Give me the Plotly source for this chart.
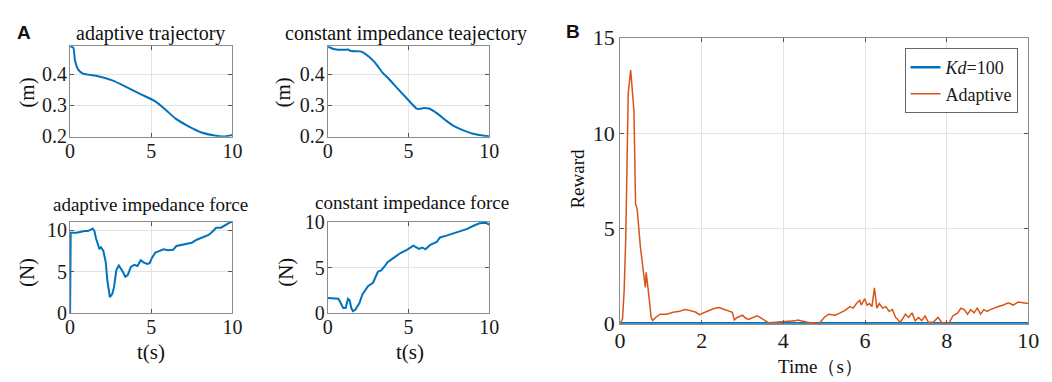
import plotly.graph_objects as go

# ---------------- data ----------------
traj_ad_t = [0, 0.2, 0.3, 0.5, 0.8, 1.6, 2.6, 3.6, 4.4, 5.25, 5.9, 6.5, 7.3, 8.1, 8.9, 9.5, 10]
traj_ad_y = [0.491, 0.486, 0.445, 0.415, 0.402, 0.395, 0.38, 0.355, 0.334, 0.312, 0.284, 0.256, 0.231, 0.211, 0.201, 0.198, 0.203]

traj_ci_t = [0, 0.35, 1.05, 1.25, 1.45, 2.0, 2.3, 2.9, 3.4, 3.7, 4.1, 4.5, 5.0, 5.5, 5.7, 5.95, 6.25, 6.75, 7.35, 7.85, 8.4, 9.0, 9.6, 10]
traj_ci_y = [0.491, 0.483, 0.48, 0.481, 0.476, 0.475, 0.468, 0.44, 0.405, 0.39, 0.367, 0.344, 0.316, 0.289, 0.288, 0.291, 0.289, 0.274, 0.249, 0.231, 0.218, 0.207, 0.201, 0.198]

force_ad_t = [0, 0.04, 0.4, 0.7, 0.9, 1.1, 1.4, 1.5, 1.6, 1.8, 1.9, 2.05, 2.2, 2.3, 2.45, 2.6, 2.7, 2.85, 3.0, 3.25, 3.4, 3.55, 3.75, 3.95, 4.15, 4.35, 4.55, 4.75, 4.9, 5.05, 5.25, 5.45, 5.75, 6.05, 6.35, 6.55, 6.85, 7.15, 7.5, 7.8, 8.2, 8.5, 8.7, 9.0, 9.3, 9.6, 9.9, 10]
force_ad_y = [0, 9.7, 9.7, 9.85, 9.9, 9.9, 10.2, 9.9, 9.0, 7.8, 7.95, 7.5, 6.1, 3.9, 1.97, 2.35, 3.1, 5.2, 5.75, 5.0, 4.4, 4.6, 5.6, 5.85, 5.7, 6.4, 6.1, 5.95, 6.05, 6.7, 7.3, 7.45, 7.7, 7.6, 7.65, 8.1, 8.2, 8.3, 8.5, 8.85, 9.2, 9.4, 9.7, 10.3, 10.3, 10.6, 11.0, 10.95]

force_ci_t = [0, 0.65, 0.75, 0.95, 1.1, 1.25, 1.35, 1.45, 1.55, 1.7, 1.95, 2.15, 2.5, 2.8, 3.1, 3.3, 3.5, 3.7, 4.1, 4.5, 4.9, 5.3, 5.65, 5.85, 6.05, 6.35, 6.75, 6.95, 7.35, 7.75, 8.15, 8.6, 9.0, 9.4, 9.8, 10]
force_ci_y = [1.7, 1.6, 1.3, 0.6, 0.6, 1.6, 1.45, 0.6, 0.25, 0.4, 1.1, 2.1, 3.0, 3.35, 4.55, 4.7, 5.1, 5.6, 6.1, 6.6, 6.95, 7.4, 7.05, 7.2, 7.0, 7.5, 7.8, 8.3, 8.5, 8.7, 8.95, 9.2, 9.55, 9.85, 9.9, 9.7]

rew_ad_t = [0, 0.06, 0.1, 0.14, 0.18, 0.2, 0.26, 0.3, 0.34, 0.38, 0.42, 0.5, 0.58, 0.62, 0.64, 0.67, 0.72, 0.76, 0.8, 0.88,
            0.98, 1.14, 1.3, 1.46, 1.58, 1.7, 1.86, 1.94, 2.06, 2.18, 2.3, 2.42, 2.55, 2.66, 2.75, 2.8, 2.87, 3.0, 3.07, 3.15,
            3.27, 3.35, 3.43, 3.55, 3.64, 3.8, 3.96, 4.1, 4.19, 4.28, 4.35, 4.59, 4.87, 5.0, 5.11, 5.27, 5.39, 5.51, 5.63, 5.71,
            5.79, 5.87, 5.91, 5.99, 6.05, 6.11, 6.17, 6.23, 6.29, 6.35, 6.43, 6.51, 6.59, 6.67, 6.75, 6.87, 6.99, 7.07, 7.15, 7.23,
            7.31, 7.39, 7.47, 7.55, 7.67, 7.79, 7.87, 7.95, 8.07, 8.15, 8.27, 8.35, 8.43, 8.51, 8.59, 8.67, 8.75, 8.83, 8.91, 8.99,
            9.07, 9.15, 9.27, 9.39, 9.51, 9.63, 9.75, 9.87, 10.0]
rew_ad_y = [0, 0.25, 1.7, 4.5, 9.5, 12.1, 13.3, 12.4, 11.2, 6.3, 6.0, 4.0, 2.5, 1.9, 2.7, 2.2, 1.2, 0.34, 0.17, 0.34,
            0.5, 0.5, 0.6, 0.65, 0.75, 0.7, 0.6, 0.48, 0.58, 0.7, 0.8, 0.85, 0.75, 0.7, 0.6, 0.2, 0.33, 0.45, 0.3, 0.22,
            0.33, 0.42, 0.33, 0.16, 0.05, 0.08, 0.1, 0.1, 0.15, 0.15, 0.2, 0.08, 0.0, 0.33, 0.5, 0.45, 0.57, 0.7, 0.9, 0.82,
            1.06, 1.23, 0.98, 1.31, 0.98, 1.06, 0.9, 1.88, 0.82, 1.06, 0.82, 0.9, 0.65, 0.74, 0.33, 0.08, 0.5, 0.33, 0.57, 0.16,
            0.33, 0.16, 0.41, 0.08, 0.08, 0.33, 0.08, 0.0, 0.08, 0.41, 0.57, 0.82, 0.74, 0.5, 0.74, 0.57, 0.82, 0.5, 0.74, 0.65,
            0.74, 0.82, 0.9, 0.98, 1.1, 0.98, 1.14, 1.1, 1.06]

rew_kd_t = [0, 2, 4, 6, 8, 10]
rew_kd_y = [0.03, 0.03, 0.03, 0.03, 0.03, 0.03]

# ---------------- styling ----------------
W, H = 1052, 382
SERIF = "Liberation Serif, Times New Roman, serif"
BLUE = "#0072BD"
ORANGE = "#D95319"
AX = "#8c8c8c"
GRID = "#e3e3e3"
TXT = "#1a1a1a"


def px_x(p):
    return p / W


def px_y(p):
    return 1 - p / H


def axis_style(size=20, **kw):
    d = dict(showline=True, linecolor=AX, linewidth=1, mirror="ticks",
             ticks="inside", ticklen=4, tickcolor="#555", showgrid=True,
             gridcolor=GRID, gridwidth=1, zeroline=False,
             tickfont=dict(family=SERIF, size=size, color=TXT))
    d.update(kw)
    return d


fig = go.Figure()

fig.add_trace(go.Scatter(x=traj_ad_t, y=traj_ad_y, mode="lines", line=dict(color=BLUE, width=2, shape="spline", smoothing=0.6),
                         xaxis="x", yaxis="y", showlegend=False))
fig.add_trace(go.Scatter(x=traj_ci_t, y=traj_ci_y, mode="lines", line=dict(color=BLUE, width=2, shape="spline", smoothing=0.5),
                         xaxis="x2", yaxis="y2", showlegend=False))
fig.add_trace(go.Scatter(x=force_ad_t, y=force_ad_y, mode="lines", line=dict(color=BLUE, width=2),
                         xaxis="x3", yaxis="y3", showlegend=False))
fig.add_trace(go.Scatter(x=force_ci_t, y=force_ci_y, mode="lines", line=dict(color=BLUE, width=2),
                         xaxis="x4", yaxis="y4", showlegend=False))
fig.add_trace(go.Scatter(x=rew_kd_t, y=rew_kd_y, mode="lines", line=dict(color=BLUE, width=2.5),
                         xaxis="x5", yaxis="y5", name="<i>Kd</i>=100"))
fig.add_trace(go.Scatter(x=rew_ad_t, y=rew_ad_y, mode="lines", line=dict(color=ORANGE, width=1.5),
                         xaxis="x5", yaxis="y5", name="Adaptive"))

L1, R1 = px_x(57), px_x(222)
L2, R2 = px_x(319), px_x(483)
TOPY = [px_y(125), px_y(28)]
BOTY = [px_y(314), px_y(216)]

xt = dict(tickvals=[0, 5, 10], range=[0, 10], ticklabelstandoff=-4)
yt = dict(ticklabelstandoff=-2)
fig.update_layout(
    width=W, height=H, margin=dict(l=0, r=0, t=0, b=0),
    plot_bgcolor="white", paper_bgcolor="white",
    font=dict(family=SERIF, color=TXT),
    xaxis=axis_style(domain=[L1, R1], anchor="y", **xt),
    yaxis=axis_style(domain=TOPY, anchor="x", range=[0.197, 0.491], tickvals=[0.2, 0.3, 0.4], **yt),
    xaxis2=axis_style(domain=[L2, R2], anchor="y2", **xt),
    yaxis2=axis_style(domain=TOPY, anchor="x2", range=[0.197, 0.492], tickvals=[0.2, 0.3, 0.4], **yt),
    xaxis3=axis_style(domain=[L1, R1], anchor="y3", **xt),
    yaxis3=axis_style(domain=BOTY, anchor="x3", range=[0, 11], tickvals=[0, 5, 10], **yt),
    xaxis4=axis_style(domain=[L2, R2], anchor="y4", **xt),
    yaxis4=axis_style(domain=BOTY, anchor="x4", range=[0, 10], tickvals=[0, 5, 10], **yt),
    xaxis5=axis_style(size=22, domain=[px_x(616), px_x(1031)], anchor="y5", range=[0, 10], tickvals=[0, 2, 4, 6, 8, 10],
                      ticklabelstandoff=-3),
    yaxis5=axis_style(size=22, domain=[px_y(325), px_y(19)], anchor="x5", range=[0, 15], tickvals=[0, 5, 10, 15],
                      ticklabelstandoff=0),
    legend=dict(x=px_x(1020), y=px_y(30), xanchor="right", yanchor="top",
                bordercolor="#666", borderwidth=1, bgcolor="white",
                font=dict(family=SERIF, size=18, color=TXT), tracegroupgap=0),
)

anns = []


def txt(x, y, s, size=17, angle=0, family=SERIF, bold=False):
    anns.append(dict(x=px_x(x), y=px_y(y), xref="paper", yref="paper", text=(f"<b>{s}</b>" if bold else s),
                     showarrow=False, textangle=angle, xanchor="center", yanchor="middle",
                     font=dict(family=family, size=size, color="#111")))


txt(10, 13, "A", size=19, family="Liberation Sans, Arial, sans-serif", bold=True)
txt(568, 12, "B", size=19, family="Liberation Sans, Arial, sans-serif", bold=True)
txt(139, 14, "adaptive trajectory", size=20)
txt(398, 14, "constant impedance teajectory", size=20)
txt(139, 197, "adaptive impedance force", size=19)
txt(405, 195, "constant impedance force", size=19)
txt(139, 355, "t(s)", size=21)
txt(402, 355, "t(s)", size=21)
txt(13, 78, "(m)", size=21, angle=-90)
txt(273, 78, "(m)", size=21, angle=-90)
txt(14, 270, "(N)", size=21, angle=-90)
txt(277, 270, "(N)", size=21, angle=-90)
txt(573, 170, "Reward", size=19, angle=-90)
txt(820, 371, "Time（s）", size=19)
fig.update_layout(annotations=anns)

fig.write_html("out.html")
